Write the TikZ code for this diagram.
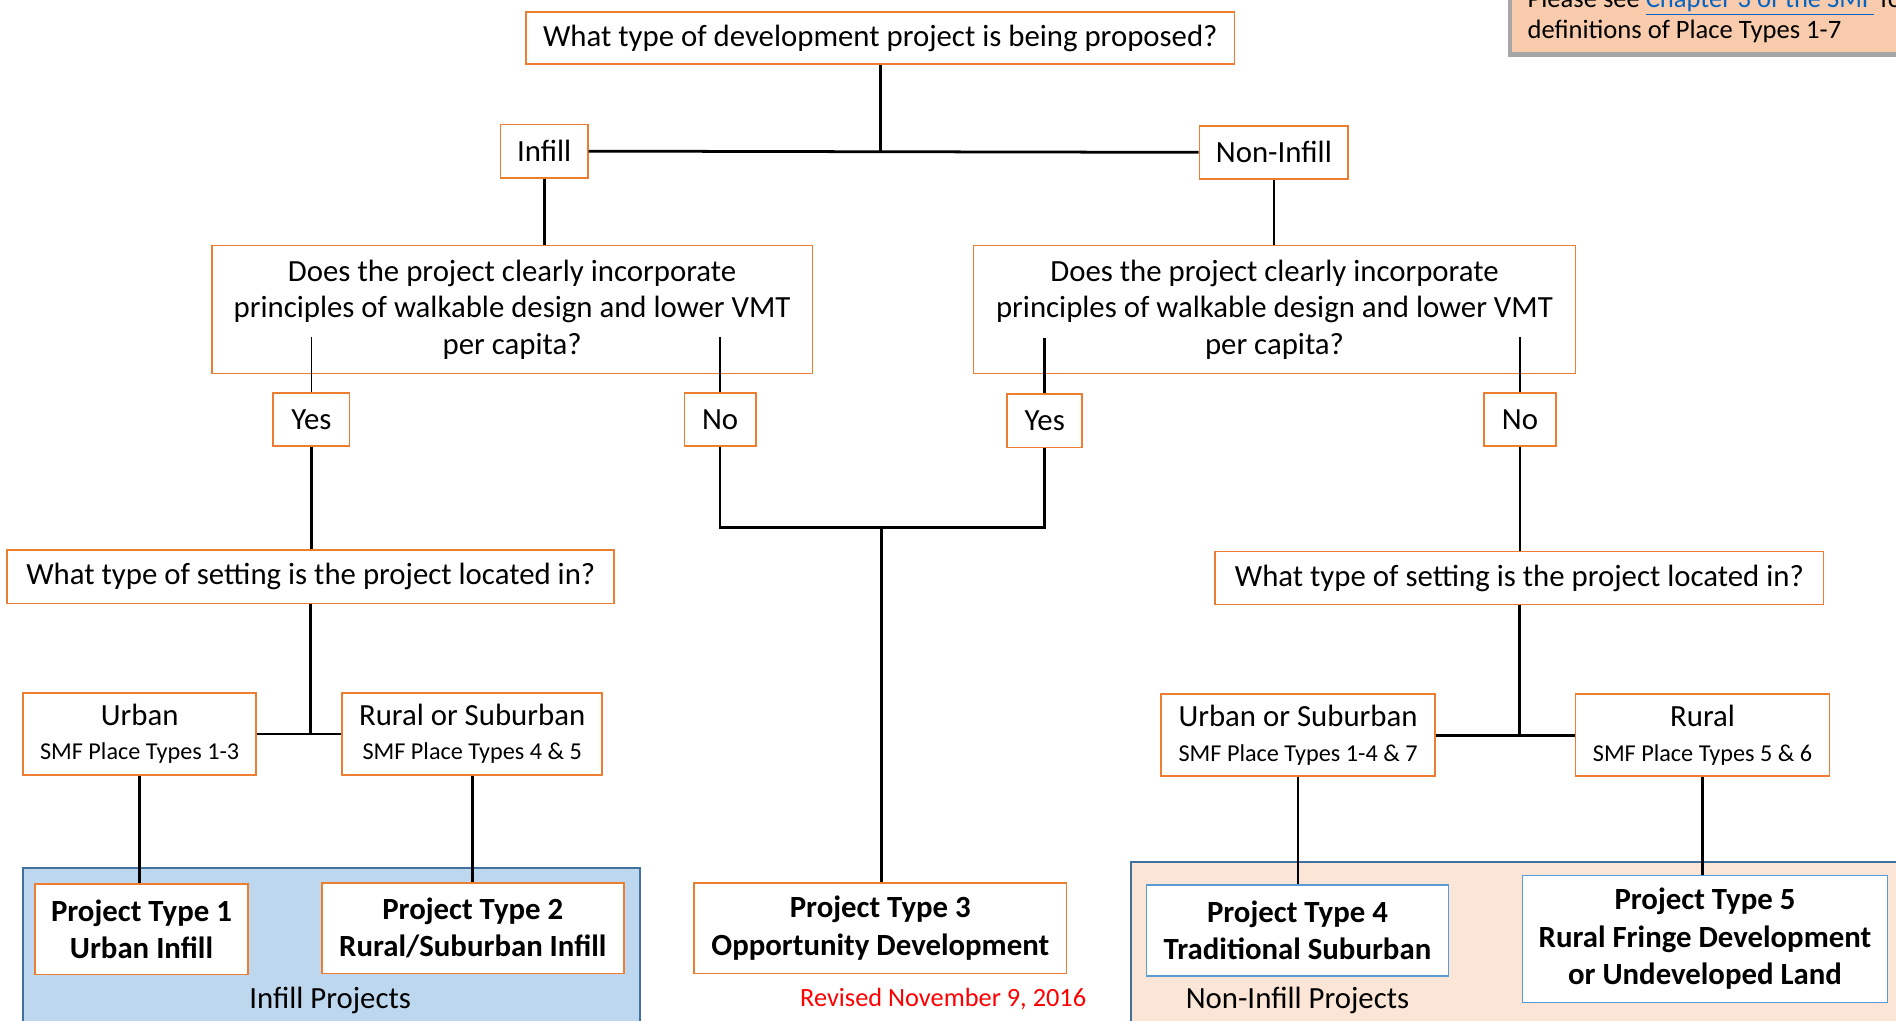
\documentclass[tikz,border=0pt]{standalone}
\usepackage{fontspec}
\setmainfont{Carlito}
\usepackage{xcolor}
\usetikzlibrary{calc}
\definecolor{boxorange}{HTML}{ED7D31}
\definecolor{boxblue}{HTML}{5B9BD5}
\definecolor{panelblue}{HTML}{BDD7EE}
\definecolor{paneledge}{HTML}{41719C}
\definecolor{panelpeach}{HTML}{FBE5D6}
\definecolor{notepeach}{HTML}{F8CBAD}
\definecolor{linkblue}{HTML}{0563C1}
\tikzset{
  qbox/.style={draw=boxorange, line width=0.8pt, fill=white, align=center, inner sep=0pt, font=\fontsize{14.5}{17.2}\selectfont},
  tbox/.style={qbox, font=\fontsize{14.5}{17.6}\selectfont\bfseries},
  bbox/.style={tbox, draw=boxblue},
  link/.style={draw=black, line width=1.3pt},
  thinlink/.style={draw=black, line width=0.8pt},
  panel/.style={draw=paneledge, line width=1pt},
  lab/.style={font=\fontsize{14.5}{17}\selectfont},
}
\newcommand{\smf}[1]{\\[-1pt]{\fontsize{11.4}{13}\selectfont #1}}

\begin{document}
\begin{tikzpicture}[x=0.02cm, y=-0.02cm]
\useasboundingbox (0,0) rectangle (1568,844);
\clip (0,0) rectangle (1568,844);

% panels behind the project types
\filldraw[panel, fill=panelblue] (19,718) rectangle (529,870);
\filldraw[panel, fill=panelpeach] (935,713) rectangle (1590,870);
\node[lab] (infproj) at (273,827) {Infill Projects};
\node[lab] (noninfproj) at (1073,827) {Non-Infill Projects};
\node[text=red, font=\fontsize{12.4}{14}\selectfont] (revised) at (780,826) {Revised November 9, 2016};

% note in the corner
\fill[black!35] (1247,-30) rectangle (1580,47);
\fill[notepeach] (1250,-30) rectangle (1580,43);
\node[font=\fontsize{12.5}{15}\selectfont, anchor=base west, inner sep=0pt] (note1) at (1263,6) {Please see \textcolor{linkblue}{\underline{Chapter 3 of the SMF}} for};
\node[font=\fontsize{12.5}{15}\selectfont, anchor=base west, inner sep=0pt] (note2) at (1263,32) {definitions of Place Types 1-7};

% first question
\node[qbox, minimum width=11.72cm, minimum height=0.86cm] (qtop) at (728,31.5) {What type of development project is being proposed?};
\node[qbox, minimum width=1.44cm, minimum height=0.88cm] (infill) at (450,125) {Infill};
\node[qbox, minimum width=2.46cm, minimum height=0.88cm] (noninfill) at (1053.5,126) {Non-Infill};

% walkable design
\node[qbox, minimum width=9.94cm, minimum height=2.12cm] (walkL) at (423.5,256) {Does the project clearly incorporate\\ principles of walkable design and lower VMT\\ per capita?};
\node[qbox, minimum width=9.96cm, minimum height=2.12cm] (walkR) at (1054,256) {Does the project clearly incorporate\\ principles of walkable design and lower VMT\\ per capita?};
\node[qbox, minimum width=1.26cm, minimum height=0.88cm] (yesL) at (257.5,347) {Yes};
\node[qbox, minimum width=1.18cm, minimum height=0.88cm] (noL) at (595.5,347) {No};
\node[qbox, minimum width=1.24cm, minimum height=0.88cm] (yesR) at (864,348) {Yes};
\node[qbox, minimum width=1.2cm, minimum height=0.88cm] (noR) at (1257,347) {No};

% setting
\node[qbox, minimum width=10.04cm, minimum height=0.88cm] (setL) at (257,477) {What type of setting is the project located in?};
\node[qbox, minimum width=10.06cm, minimum height=0.88cm] (setR) at (1256.5,478) {What type of setting is the project located in?};
\node[qbox, minimum width=3.86cm, minimum height=1.36cm] (urban) at (115.5,607) {Urban\smf{SMF Place Types 1-3}};
\node[qbox, minimum width=4.3cm, minimum height=1.36cm] (ruralsub) at (390.5,607) {Rural or Suburban\smf{SMF Place Types 4 \& 5}};
\node[qbox, minimum width=4.54cm, minimum height=1.36cm] (urbsub) at (1073.5,608) {Urban or Suburban\smf{SMF Place Types 1-4 \& 7}};
\node[qbox, minimum width=4.2cm, minimum height=1.36cm] (rural) at (1408,608) {Rural\smf{SMF Place Types 5 \& 6}};

% project types
\node[tbox, minimum width=3.52cm, minimum height=1.5cm] (pt1) at (117,768.5) {Project Type 1\\ Urban Infill};
\node[tbox, minimum width=5cm, minimum height=1.5cm] (pt2) at (391,767.5) {Project Type 2\\ Rural/Suburban Infill};
\node[tbox, minimum width=6.16cm, minimum height=1.5cm] (pt3) at (728,767.5) {Project Type 3\\ Opportunity Development};
\node[bbox, minimum width=5cm, minimum height=1.5cm] (pt4) at (1073,769.5) {Project Type 4\\ Traditional Suburban};
\node[bbox, minimum width=6.04cm, minimum height=2.1cm] (pt5) at (1410,776.5) {Project Type 5\\ Rural Fringe Development\\ or Undeveloped Land};

% connectors
\coordinate (merge) at (729,436);
\draw[link] (infill.east) -- (noninfill.west);
\draw[link] (qtop.south) -- (qtop.south |- infill.east);
\draw[link] (infill.south) -- (infill.south |- walkL.north);
\draw[link] (noninfill.south) -- (noninfill.south |- walkR.north);
\draw[thinlink] (yesL.north) -- ++(0,-46);
\draw[thinlink] (noL.north) -- ++(0,-46);
\draw[link] (yesR.north) -- ++(0,-46);
\draw[link] (noR.north) -- ++(0,-46);
\draw[link] (yesL.south) -- (yesL.south |- setL.north);
\draw[link] (noR.south) -- (noR.south |- setR.north);
\draw[link] (noL.south) |- (merge) -| (yesR.south);
\draw[link] (merge) -- (merge |- pt3.north);
\draw[link] (setL.south) -- (setL.south |- urban.east);
\draw[link] (urban.east) -- (ruralsub.west);
\draw[link] (setR.south) -- (setR.south |- urbsub.east);
\draw[link] (urbsub.east) -- (rural.west);
\draw[link] (urban.south) -- (urban.south |- pt1.north);
\draw[link] (ruralsub.south) -- (ruralsub.south |- pt2.north);
\draw[link] (urbsub.south) -- (urbsub.south |- pt4.north);
\draw[link] (rural.south) -- (rural.south |- pt5.north);
\end{tikzpicture}
\end{document}
